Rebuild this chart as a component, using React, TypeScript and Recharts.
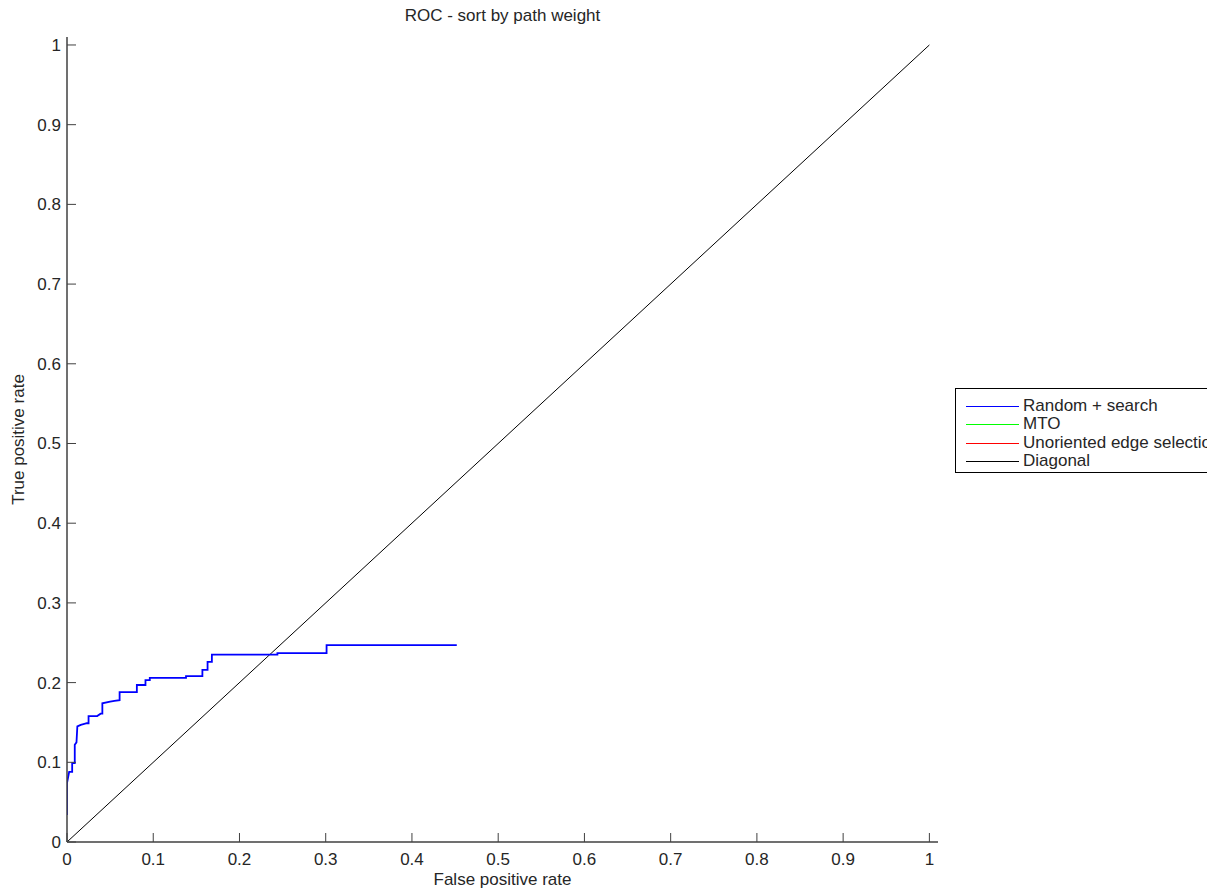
import React from 'react';
import { LineChart, Line, XAxis, YAxis } from 'recharts';

// Random + search ROC curve (false positive rate, true positive rate)
const randomSearchFpr = [
  0, 0, 0.0025, 0.006, 0.006, 0.009, 0.009, 0.011, 0.012, 0.016, 0.023, 0.025, 0.025,
  0.035, 0.039, 0.041, 0.041, 0.05, 0.055, 0.061, 0.061, 0.081, 0.081, 0.091, 0.091,
  0.096, 0.096, 0.138, 0.138, 0.157, 0.157, 0.163, 0.163, 0.168, 0.168, 0.244, 0.244,
  0.301, 0.301, 0.452,
];
const randomSearchTpr = [
  0.034, 0.074, 0.088, 0.088, 0.099, 0.099, 0.122, 0.125, 0.145, 0.147, 0.149, 0.149, 0.158,
  0.158, 0.161, 0.161, 0.174, 0.176, 0.177, 0.178, 0.188, 0.188, 0.197, 0.197, 0.203,
  0.203, 0.206, 0.206, 0.208, 0.208, 0.216, 0.216, 0.226, 0.226, 0.235, 0.235, 0.237,
  0.237, 0.247, 0.247,
];

const diagonalFpr = [0, 1];
const diagonalTpr = [0, 1];

const xTicks = [0, 0.1, 0.2, 0.3, 0.4, 0.5, 0.6, 0.7, 0.8, 0.9, 1];
const yTicks = [0, 0.1, 0.2, 0.3, 0.4, 0.5, 0.6, 0.7, 0.8, 0.9, 1];
const tickLabels = ['0', '0.1', '0.2', '0.3', '0.4', '0.5', '0.6', '0.7', '0.8', '0.9', '1'];

const legendLabels = ['Random + search', 'MTO', 'Unoriented edge selection', 'Diagonal'];
const legendColors = ['#0000ff', '#00ff00', '#ff0000', '#000000'];

const chartTitle = 'ROC - sort by path weight';
const xLabel = 'False positive rate';
const yLabel = 'True positive rate';

const randomSearch = randomSearchFpr.map((x, i) => ({ x, y: randomSearchTpr[i] }));
const diagonal = diagonalFpr.map((x, i) => ({ x, y: diagonalTpr[i] }));

const FONT = '"Liberation Sans", Arial, Helvetica, sans-serif';
const AXIS = '#404040';
const TEXT = '#262626';

const fmt = (v: number) => {
  const idx = xTicks.findIndex((t) => Math.abs(t - v) < 1e-9);
  return idx >= 0 ? tickLabels[idx] : String(v);
};

const XTick = (props: any) => {
  const { x, y, payload } = props;
  return (
    <g>
      <line x1={x} y1={y} x2={x} y2={y - 9} stroke={AXIS} strokeWidth={1} />
      <text x={x} y={y + 23} textAnchor="middle" fontSize={17} fontFamily={FONT} fill={TEXT}>
        {fmt(payload.value)}
      </text>
    </g>
  );
};

const YTick = (props: any) => {
  const { x, y, payload } = props;
  return (
    <g>
      <line x1={x} y1={y} x2={x + 9} y2={y} stroke={AXIS} strokeWidth={1} />
      <text x={x - 6} y={y + 6} textAnchor="end" fontSize={17} fontFamily={FONT} fill={TEXT}>
        {fmt(payload.value)}
      </text>
    </g>
  );
};

export default function App() {
  return (
    <div style={{ position: 'relative', width: 1207, height: 882, background: '#fff' }}>
      <div
        style={{
          position: 'absolute',
          left: 59,
          width: 871,
          top: -2,
          lineHeight: '20px',
          textAlign: 'center',
          fontFamily: FONT,
          fontSize: 17,
          color: TEXT,
          zIndex: 2,
        }}
      >
        {chartTitle}
      </div>
      <LineChart
        width={1207}
        height={882}
        margin={{ top: 29, right: 277, bottom: 5, left: 0 }}
      >
        <XAxis
          type="number"
          dataKey="x"
          domain={[0, 1.01]}
          ticks={xTicks}
          allowDataOverflow
          tickSize={0}
          tickMargin={0}
          tickLine={false}
          tick={<XTick />}
          axisLine={{ stroke: AXIS, strokeWidth: 1.5 }}
          height={43}
          interval={0}
          label={{ value: xLabel, position: 'insideBottom', offset: 0, fontSize: 17, fill: TEXT, fontFamily: FONT }}
        />
        <YAxis
          type="number"
          dataKey="y"
          domain={[0, 1.01]}
          ticks={yTicks}
          allowDataOverflow
          tickSize={0}
          tickMargin={0}
          tickLine={false}
          tick={<YTick />}
          axisLine={{ stroke: AXIS, strokeWidth: 1.5 }}
          width={59}
          interval={0}
          label={{
            value: yLabel,
            angle: -90,
            position: 'insideLeft',
            offset: 10,
            fontSize: 17,
            fill: TEXT,
            fontFamily: FONT,
            style: { textAnchor: 'middle' },
          }}
        />
        <Line
          data={diagonal}
          dataKey="y"
          type="linear"
          stroke="#000000"
          strokeWidth={1}
          dot={false}
          activeDot={false}
          isAnimationActive={false}
        />
        <Line
          data={randomSearch}
          dataKey="y"
          type="linear"
          stroke="#0000ff"
          strokeWidth={1.8}
          dot={false}
          activeDot={false}
          isAnimationActive={false}
        />
      </LineChart>
      <div
        style={{
          position: 'absolute',
          left: 947,
          top: 380,
          width: 260,
          height: 85,
          boxSizing: 'border-box',
          borderTop: '1px solid #000',
          borderLeft: '1px solid #000',
          borderBottom: '1px solid #000',
          background: '#fff',
          paddingTop: 8,
          overflow: 'hidden',
          fontFamily: FONT,
          fontSize: 17,
          color: TEXT,
        }}
      >
        {legendLabels.map((label, i) => (
          <div key={label} style={{ position: 'relative', height: 18.3, lineHeight: '18.3px', whiteSpace: 'nowrap' }}>
            <div
              style={{
                position: 'absolute',
                left: 10,
                width: 53,
                top: 9,
                height: 1,
                background: legendColors[i],
              }}
            />
            <span style={{ position: 'absolute', left: 67, top: 0 }}>{label}</span>
          </div>
        ))}
      </div>
    </div>
  );
}
